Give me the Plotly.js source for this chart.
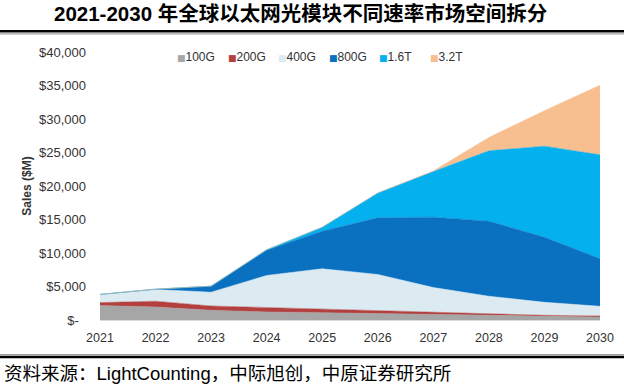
<!DOCTYPE html>
<html>
<head>
<meta charset="utf-8">
<script src="https://cdn.plot.ly/plotly-3.0.1.min.js"></script>
<style>
html,body{margin:0;padding:0;background:#fff;}
#chart{width:624px;height:391px;}
</style>
</head>
<body>
<div id="chart"></div>
<script>
// ---- data ----
const years = [2021, 2022, 2023, 2024, 2025, 2026, 2027, 2028, 2029, 2030];
const seriesNames = ['100G', '200G', '400G', '800G', '1.6T', '3.2T'];
const s100G = [2150, 1950, 1450, 1200, 1100, 950, 800, 650, 500, 450];
const s200G = [450, 850, 650, 650, 550, 500, 350, 250, 200, 150];
const s400G = [1220, 1750, 2050, 4800, 6000, 5350, 3700, 2650, 1950, 1450];
const s800G = [0, 50, 900, 3750, 5600, 8450, 10500, 11200, 9700, 7100];
const s1_6T = [0, 0, 0, 100, 600, 3700, 6800, 10500, 13600, 15500];
const s3_2T = [0, 0, 0, 0, 0, 0, 100, 2000, 5300, 10400];
const yTickVals = [0, 5000, 10000, 15000, 20000, 25000, 30000, 35000, 40000];
const yTickText = ['$-\u00a0\u00a0', '$5,000', '$10,000', '$15,000', '$20,000', '$25,000', '$30,000', '$35,000', '$40,000'];
const titleText = '2021-2030 年全球以太网光模块不同速率市场空间拆分';
const sourceText = '资料来源：LightCounting，中际旭创，中原证券研究所';
const yTitle = 'Sales ($M)';

// ---- styles / layout ----
const colors = ['#a6a6a6', '#b3403e', '#dcebf2', '#0a70c0', '#05b0ef', '#f7be90'];
const seriesValues = [s100G, s200G, s400G, s800G, s1_6T, s3_2T];
const W = 624, H = 391;
const M = {l: 100, r: 24, t: 52.3, b: 70.5};
const pw = W - M.l - M.r, ph = H - M.t - M.b;
const xp = px => (px - M.l) / pw;
const yp = py => (H - M.b - py) / ph;
const latin = '"Liberation Sans", Arial, "Noto Sans CJK SC", sans-serif';

const traces = seriesValues.map((vals, i) => ({
  x: years, y: vals, type: 'scatter', mode: 'lines', stackgroup: 'one',
  name: seriesNames[i], line: {width: 0.5, color: colors[i]}, fillcolor: colors[i],
  showlegend: false, hoverinfo: 'x+y+name'
}));

const annotations = [];
// title
annotations.push({xref: 'paper', yref: 'paper', x: xp(300), y: yp(14), xanchor: 'center', yanchor: 'middle',
  text: '<b>' + titleText + '</b>', showarrow: false,
  font: {family: latin, size: 20.5, color: '#000'}});
// source
annotations.push({xref: 'paper', yref: 'paper', x: xp(2), y: yp(374), xanchor: 'left', yanchor: 'middle',
  text: sourceText, showarrow: false,
  font: {family: latin, size: 18.5, color: '#000'}});
// legend entries
seriesNames.forEach((n, i) => {
  annotations.push({xref: 'paper', yref: 'paper', x: xp(175 + i * 50.6), y: yp(57), xanchor: 'left', yanchor: 'middle',
    text: '<span style="color:' + colors[i] + ';font-size:9px;font-family:DejaVu Sans">■</span>' + n,
    showarrow: false, font: {family: latin, size: 12, color: '#333'}});
});

const shapes = [
  {type: 'line', xref: 'paper', yref: 'paper', x0: xp(0), x1: xp(W), y0: yp(31.5), y1: yp(31.5), line: {color: '#000', width: 2.5}},
  {type: 'line', xref: 'paper', yref: 'paper', x0: xp(0), x1: xp(W), y0: yp(34.2), y1: yp(34.2), line: {color: '#888', width: 1}},
  {type: 'line', xref: 'paper', yref: 'paper', x0: xp(0), x1: xp(W), y0: yp(355.2), y1: yp(355.2), line: {color: '#888', width: 1}},
  {type: 'line', xref: 'paper', yref: 'paper', x0: xp(0), x1: xp(W), y0: yp(357.5), y1: yp(357.5), line: {color: '#000', width: 2.5}}
];

const layout = {
  width: W, height: H,
  margin: {l: M.l, r: M.r, t: M.t, b: M.b, pad: 0},
  paper_bgcolor: '#fff', plot_bgcolor: '#fff',
  showlegend: false,
  font: {family: latin, color: '#333'},
  xaxis: {
    range: [2021, 2030], tickvals: years, ticktext: years.map(String),
    showgrid: false, zeroline: false, showline: true, linecolor: '#d9d9d9', linewidth: 1,
    ticks: '', tickfont: {family: latin, size: 12.5, color: '#333'}, ticklabelstandoff: 6,
    fixedrange: true
  },
  yaxis: {
    range: [0, 40000], tickvals: yTickVals, ticktext: yTickText,
    showgrid: false, zeroline: false, showline: false, ticks: '',
    tickfont: {family: latin, size: 13, color: '#333'}, ticklabelstandoff: 13,
    title: {text: '<b>' + yTitle + '</b>', font: {family: latin, size: 12, color: '#333'}, standoff: 4},
    automargin: false, fixedrange: true
  },
  annotations: annotations,
  shapes: shapes
};

Plotly.newPlot('chart', traces, layout, {displayModeBar: false, staticPlot: true});
</script>
</body>
</html>
